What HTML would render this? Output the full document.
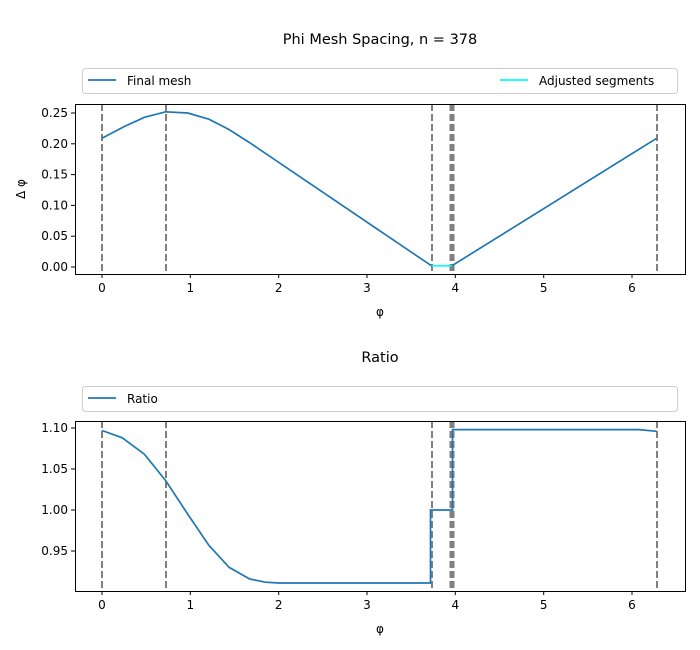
<!DOCTYPE html>
<html><head><style>body{margin:0;background:#fff}svg{display:block}</style></head><body>
<svg width="700" height="650" xmlns="http://www.w3.org/2000/svg" font-family="DejaVu Sans, sans-serif" font-size="12" fill="#000">
<rect width="700" height="650" fill="#fff"/>
<text x="380" y="44" text-anchor="middle" font-size="14.5">Phi Mesh Spacing, n = 378</text>
<text x="380" y="362" text-anchor="middle" font-size="14.5">Ratio</text>
<!-- top axes -->
<g stroke="#808080" stroke-width="2" stroke-dasharray="7,3">
<line x1="102" y1="104" x2="102" y2="274"/><line x1="166" y1="104" x2="166" y2="274"/>
<line x1="432" y1="104" x2="432" y2="274"/><line x1="452" y1="104" x2="452" y2="274" stroke-width="5"/>
<line x1="657" y1="104" x2="657" y2="274"/>
<line x1="102" y1="421" x2="102" y2="591"/><line x1="166" y1="421" x2="166" y2="591"/>
<line x1="432" y1="421" x2="432" y2="591"/><line x1="452" y1="421" x2="452" y2="591" stroke-width="5"/>
<line x1="657" y1="421" x2="657" y2="591"/>
</g>
<polyline fill="none" stroke="#1f77b4" stroke-width="1.7" points="102,138.3 124.1,126.6 144.4,117.3 165.6,111.8 187.7,113 208.9,119.2 229.2,129.6 249.5,142.6 431.5,265.8"/>
<polyline fill="none" stroke="#1f77b4" stroke-width="1.7" points="451.8,265.8 656.7,138.3"/>
<line x1="431.5" y1="265.8" x2="451.8" y2="265.8" stroke="#00ffff" stroke-width="1.7"/>
<rect x="75.5" y="104.5" width="610" height="170" fill="none" stroke="#000" stroke-width="1"/>
<g stroke="#000"><line x1="102" y1="274" x2="102" y2="278"/><line x1="190.3" y1="274" x2="190.3" y2="278"/><line x1="278.7" y1="274" x2="278.7" y2="278"/><line x1="367" y1="274" x2="367" y2="278"/><line x1="455.3" y1="274" x2="455.3" y2="278"/><line x1="543.7" y1="274" x2="543.7" y2="278"/><line x1="632" y1="274" x2="632" y2="278"/>
<line x1="71" y1="267" x2="75" y2="267"/><line x1="71" y1="236.2" x2="75" y2="236.2"/><line x1="71" y1="205.4" x2="75" y2="205.4"/><line x1="71" y1="174.6" x2="75" y2="174.6"/><line x1="71" y1="143.8" x2="75" y2="143.8"/><line x1="71" y1="113" x2="75" y2="113"/></g>
<g text-anchor="middle"><text x="102" y="292">0</text><text x="190.3" y="292">1</text><text x="278.7" y="292">2</text><text x="367" y="292">3</text><text x="455.3" y="292">4</text><text x="543.7" y="292">5</text><text x="632" y="292">6</text>
<text x="380" y="316">φ</text></g>
<g text-anchor="end"><text x="68" y="271">0.00</text><text x="68" y="240.2">0.05</text><text x="68" y="209.4">0.10</text><text x="68" y="178.6">0.15</text><text x="68" y="147.8">0.20</text><text x="68" y="117">0.25</text></g>
<text transform="translate(25,189) rotate(-90)" text-anchor="middle">Δ φ</text>
<rect x="82.5" y="68.5" width="595" height="25" rx="3" fill="#fff" stroke="#ccc"/>
<line x1="88" y1="80" x2="116" y2="80" stroke="#1f77b4" stroke-width="1.7"/><text x="127" y="85">Final mesh</text>
<line x1="500" y1="80" x2="528" y2="80" stroke="#00ffff" stroke-width="1.7"/><text x="539" y="85">Adjusted segments</text>
<!-- bottom -->
<polyline fill="none" stroke="#1f77b4" stroke-width="1.7" points="102,430.5 122.3,437.8 144.4,454.2 165.6,480.5 187.7,514.1 208.9,545.3 229.2,567.4 249.5,578.9 265.4,582.2 278.7,583 430.5,583 430.5,510 452.5,510 452.5,429.6 639,429.6 656.7,431.3"/>
<rect x="75.5" y="421.5" width="610" height="170" fill="none" stroke="#000" stroke-width="1"/>
<g stroke="#000"><line x1="102" y1="591" x2="102" y2="595"/><line x1="190.3" y1="591" x2="190.3" y2="595"/><line x1="278.7" y1="591" x2="278.7" y2="595"/><line x1="367" y1="591" x2="367" y2="595"/><line x1="455.3" y1="591" x2="455.3" y2="595"/><line x1="543.7" y1="591" x2="543.7" y2="595"/><line x1="632" y1="591" x2="632" y2="595"/>
<line x1="71" y1="551" x2="75" y2="551"/><line x1="71" y1="510" x2="75" y2="510"/><line x1="71" y1="469" x2="75" y2="469"/><line x1="71" y1="428" x2="75" y2="428"/></g>
<g text-anchor="middle"><text x="102" y="609">0</text><text x="190.3" y="609">1</text><text x="278.7" y="609">2</text><text x="367" y="609">3</text><text x="455.3" y="609">4</text><text x="543.7" y="609">5</text><text x="632" y="609">6</text>
<text x="380" y="633">φ</text></g>
<g text-anchor="end"><text x="68" y="555">0.95</text><text x="68" y="514">1.00</text><text x="68" y="473">1.05</text><text x="68" y="432">1.10</text></g>
<rect x="82.5" y="386.5" width="595" height="25" rx="3" fill="#fff" stroke="#ccc"/>
<line x1="88" y1="398" x2="116" y2="398" stroke="#1f77b4" stroke-width="1.7"/><text x="127" y="403">Ratio</text>
</svg>
</body></html>
